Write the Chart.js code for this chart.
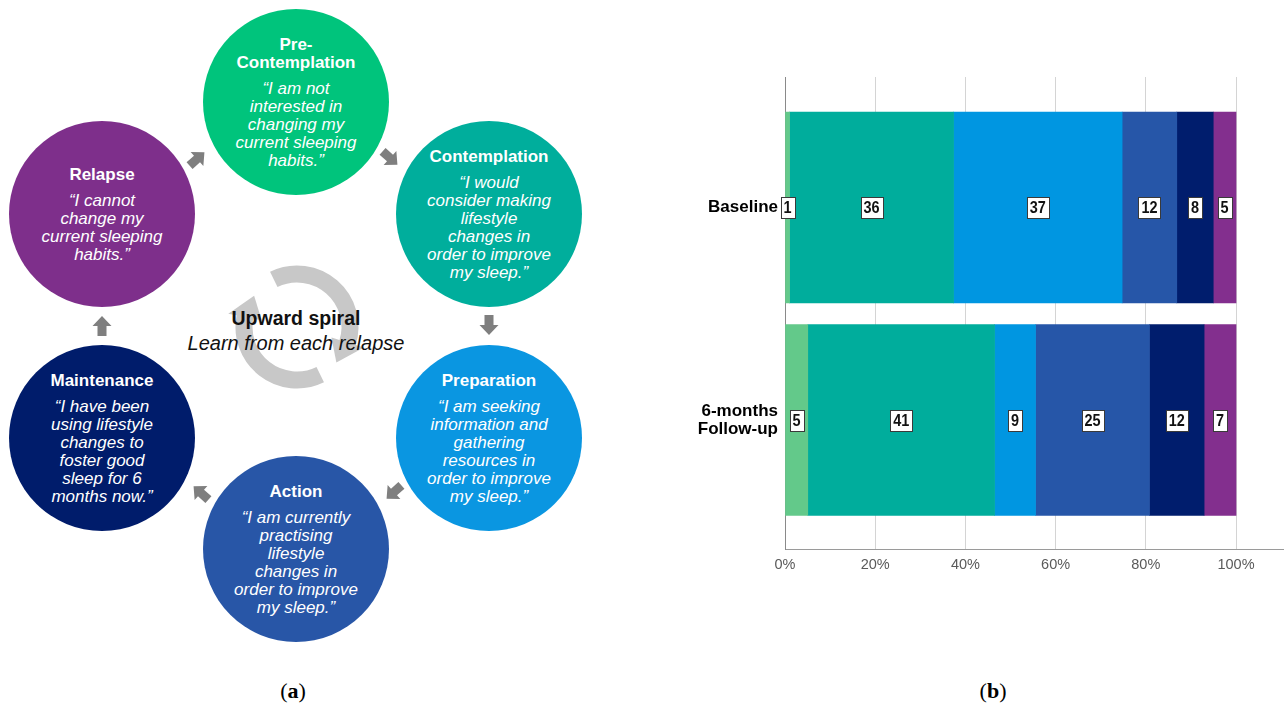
<!DOCTYPE html>
<html>
<head>
<meta charset="utf-8">
<title>Stages of change and sleep habits</title>
<script src="https://cdn.jsdelivr.net/npm/chart.js@4.4.1/dist/chart.umd.min.js"></script>
<style>
  html, body { margin: 0; padding: 0; background: #ffffff; }
  body { width: 1284px; height: 711px; position: relative; overflow: hidden; font-family: "Liberation Sans", Arial, sans-serif; }
  #cycle { position: absolute; left: 0; top: 0; }
  #chartWrap { position: absolute; left: 640px; top: 0; width: 644px; height: 600px; }
  .caption { position: absolute; top: 678px; font-family: "Liberation Serif", "DejaVu Serif", serif; font-size: 22px; color: #000; transform: translateX(-50%); }
  .caption b { font-weight: bold; }
</style>
</head>
<body>

<svg id="cycle" width="640" height="670" xmlns="http://www.w3.org/2000/svg"></svg>

<div id="chartWrap"><canvas id="stageChart" width="644" height="600"></canvas></div>

<div class="caption" style="left:293px">(<b>a</b>)</div>
<div class="caption" style="left:993px">(<b>b</b>)</div>

<script>
// ---- stacked bar data: participant counts per stage of change ----
const stages = ['Pre-Contemplation', 'Contemplation', 'Preparation', 'Action', 'Maintenance', 'Relapse'];
const timepoints = ['Baseline', ['6-months', 'Follow-up']];
const baselineCounts = [1, 36, 37, 12, 8, 5];
const followUpCounts = [5, 41, 9, 25, 12, 7];
const percentTicks = [0, 20, 40, 60, 80, 100];
const barColors = ['#63c98a', '#00ad9c', '#0096e1', '#2656a8', '#001d6d', '#832f8e'];

// ---- stage cycle diagram ----
const circleColors = ['#00c47c', '#00ae9c', '#0a96e1', '#2856a7', '#001c6b', '#7e2f8b'];
const stageTitles = [
  ['Pre-', 'Contemplation'],
  ['Contemplation'],
  ['Preparation'],
  ['Action'],
  ['Maintenance'],
  ['Relapse']
];
const stageQuotes = [
  ['\u201cI am not', 'interested in', 'changing my', 'current sleeping', 'habits.\u201d'],
  ['\u201cI would', 'consider making', 'lifestyle', 'changes in', 'order to improve', 'my sleep.\u201d'],
  ['\u201cI am seeking', 'information and', 'gathering', 'resources in', 'order to improve', 'my sleep.\u201d'],
  ['\u201cI am currently', 'practising', 'lifestyle', 'changes in', 'order to improve', 'my sleep.\u201d'],
  ['\u201cI have been', 'using lifestyle', 'changes to', 'foster good', 'sleep for 6', 'months now.\u201d'],
  ['\u201cI cannot', 'change my', 'current sleeping', 'habits.\u201d']
];
const circleCenters = [[296, 102], [489, 214], [489, 438], [296, 549], [102, 438], [102, 214]];
const circleRadius = 93;
// small arrows between stages: [x, y, direction in degrees]
const cycleArrows = [[390, 158, 42], [489, 325, 90], [394, 492, 138], [201, 493, 222], [102, 326, -90], [197, 159, -42]];

(function drawCycle() {
  const NS = 'http://www.w3.org/2000/svg';
  const svg = document.getElementById('cycle');
  const el = (name, attrs, text) => {
    const n = document.createElementNS(NS, name);
    for (const k in attrs) n.setAttribute(k, attrs[k]);
    if (text !== undefined) n.textContent = text;
    svg.appendChild(n);
    return n;
  };

  // central circular arrows
  const sc = [297, 327], sr = 53, sw = 17;
  const pt = (a, r) => [sc[0] + r * Math.cos(a * Math.PI / 180), sc[1] + r * Math.sin(a * Math.PI / 180)];
  const arcArrow = (a0, a1) => {
    const p0 = pt(a0, sr), p1 = pt(a1, sr);
    const large = (a1 - a0) > 180 ? 1 : 0;
    el('path', { d: `M${p0[0]},${p0[1]} A${sr},${sr} 0 ${large} 1 ${p1[0]},${p1[1]}`, fill: 'none', stroke: '#c8c8c8', 'stroke-width': sw });
    const i = pt(a1 - 1, sr - 17), o = pt(a1 - 1, sr + 17), t = pt(a1 + 24, sr);
    el('path', { d: `M${i[0]},${i[1]} L${o[0]},${o[1]} L${t[0]},${t[1]} Z`, fill: '#c8c8c8' });
  };
  arcArrow(-116, 18);
  arcArrow(64, 192);

  el('text', { x: 296, y: 318, 'text-anchor': 'middle', 'dominant-baseline': 'central', 'font-family': 'Liberation Sans, Arial, sans-serif', 'font-size': '19.5', 'font-weight': 'bold', fill: '#111' }, 'Upward spiral');
  el('text', { x: 296, y: 343, 'text-anchor': 'middle', 'dominant-baseline': 'central', 'font-family': 'Liberation Sans, Arial, sans-serif', 'font-size': '20', 'font-style': 'italic', fill: '#111' }, 'Learn from each relapse');

  // stage circles with their texts
  circleCenters.forEach(([cx, cy], i) => {
    el('circle', { cx, cy, r: circleRadius, fill: circleColors[i] });
    const nt = stageTitles[i].length, nq = stageQuotes[i].length;
    const span = (nt - 1) * 18 + 26 + (nq - 1) * 18;
    let y = cy - span / 2;
    stageTitles[i].forEach((line, k) => {
      el('text', { x: cx, y: y, 'text-anchor': 'middle', 'dominant-baseline': 'central', 'font-family': 'Liberation Sans, Arial, sans-serif', 'font-size': '17', 'font-weight': 'bold', fill: '#ffffff' }, line);
      y += (k === nt - 1) ? 26 : 18;
    });
    stageQuotes[i].forEach(line => {
      el('text', { x: cx, y: y, 'text-anchor': 'middle', 'dominant-baseline': 'central', 'font-family': 'Liberation Sans, Arial, sans-serif', 'font-size': '17', 'font-style': 'italic', fill: '#ffffff' }, line);
      y += 18;
    });
  });

  // grey block arrows between circles
  cycleArrows.forEach(([x, y, a]) => {
    el('path', { d: 'M-10,-4.5 L0,-4.5 L0,-9.5 L10,0 L0,9.5 L0,4.5 L-10,4.5 Z', fill: '#7f7f7f', transform: `translate(${x},${y}) rotate(${a})` });
  });
})();

// ---- stacked 100% bar chart ----
const totalOf = arr => arr.reduce((s, v) => s + v, 0);
const baselineTotal = totalOf(baselineCounts);
const followUpTotal = totalOf(followUpCounts);

const datasets = stages.map((stage, i) => ({
  label: stage,
  counts: [baselineCounts[i], followUpCounts[i]],
  data: [
    { x: baselineCounts[i] / baselineTotal * 100, y: 1 },
    { x: followUpCounts[i] / followUpTotal * 100, y: 2 }
  ],
  backgroundColor: barColors[i],
  borderWidth: 0,
  barThickness: 191,
  grouped: false
}));

// boxed count labels centred on each segment
const countLabels = {
  id: 'countLabels',
  afterDatasetsDraw(chart) {
    const ctx = chart.ctx;
    chart.data.datasets.forEach((ds, di) => {
      chart.getDatasetMeta(di).data.forEach((bar, j) => {
        const text = String(ds.counts[j]);
        const cx = (bar.x + bar.base) / 2, cy = bar.y;
        ctx.save();
        ctx.font = 'bold 17px "Liberation Sans", Arial, sans-serif';
        const tw = ctx.measureText(text).width * 0.85;
        const w = Math.round(tw + 6), h = 21;
        const left = Math.round(cx - w / 2) + 0.5, top = Math.round(cy - h / 2) + 0.5;
        ctx.fillStyle = '#ffffff';
        ctx.fillRect(left, top, w, h);
        ctx.strokeStyle = '#3a3a3a';
        ctx.lineWidth = 1;
        ctx.strokeRect(left, top, w, h);
        ctx.translate(cx, cy + 1);
        ctx.scale(0.85, 1);
        ctx.fillStyle = '#111111';
        ctx.textAlign = 'center';
        ctx.textBaseline = 'middle';
        ctx.fillText(text, 0, 0);
        ctx.restore();
      });
    });
  }
};

new Chart(document.getElementById('stageChart'), {
  type: 'bar',
  data: { datasets },
  plugins: [countLabels],
  options: {
    indexAxis: 'y',
    responsive: false,
    animation: false,
    devicePixelRatio: 1,
    layout: { padding: { top: 77, left: 0, right: 0, bottom: 0 } },
    plugins: { legend: { display: false }, tooltip: { enabled: false } },
    scales: {
      x: {
        type: 'linear',
        stacked: true,
        min: 0,
        max: 110.64,
        afterBuildTicks: s => { s.ticks = percentTicks.map(v => ({ value: v })); },
        afterFit: s => { s.height = 51; },
        grid: { color: '#d4d4d4', lineWidth: 1, drawTicks: false },
        border: { display: true, color: '#9a9a9a', width: 1 },
        ticks: {
          padding: 7,
          color: '#5a5a5a',
          font: { family: '"Liberation Sans", Arial, sans-serif', size: 14.5 },
          callback: v => v + '%'
        }
      },
      y: {
        type: 'linear',
        reverse: true,
        offset: false,
        min: 0.386,
        max: 2.607,
        afterBuildTicks: s => { s.ticks = [{ value: 1 }, { value: 2 }]; },
        afterFit: s => { s.width = 145; },
        grid: { display: false, drawTicks: false, offset: false },
        border: { display: true, color: '#8a8a8a', width: 1 },
        ticks: {
          padding: 7,
          color: '#000000',
          font: { family: '"Liberation Sans", Arial, sans-serif', size: 17, weight: 'bold', lineHeight: 1.06 },
          callback: v => timepoints[v - 1]
        }
      }
    }
  }
});
</script>
</body>
</html>
